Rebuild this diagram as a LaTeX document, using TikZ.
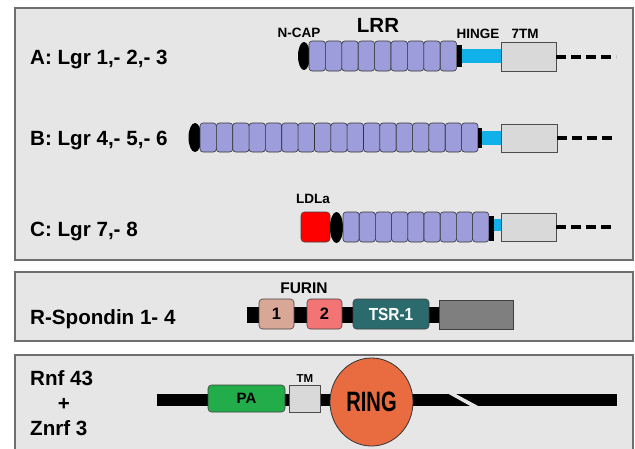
\documentclass[tikz,border=0pt]{standalone}
\usepackage{fontspec}
\setmainfont{Liberation Sans}
\newfontfamily\ringfont[FakeStretch=0.72]{Liberation Sans}
\newfontfamily\tsrfont[FakeStretch=0.88]{Liberation Sans}
\usetikzlibrary{shapes.geometric}
\definecolor{panelfill}{HTML}{E6E6E6}
\definecolor{panelline}{HTML}{6E6E6E}
\definecolor{lrrfill}{HTML}{9D9DDB}
\definecolor{hingeblue}{HTML}{10B0E8}
\definecolor{tmgray}{HTML}{D9D9D9}
\definecolor{furinone}{HTML}{D9A796}
\definecolor{furintwo}{HTML}{F27474}
\definecolor{tsrteal}{HTML}{2B6B6E}
\definecolor{darkbox}{HTML}{7F7F7F}
\definecolor{pagreen}{HTML}{22AD4A}
\definecolor{ringorange}{HTML}{E96B40}
\definecolor{ldlared}{HTML}{FF0000}
\newcommand{\fsz}[1]{\fontsize{#1}{#1}\selectfont\bfseries}
\begin{document}
\begin{tikzpicture}[x=1pt,y=-1pt,
  panel/.style={draw=panelline, line width=1.4pt, fill=panelfill},
  rowlabel/.style={font=\fsz{20.6}, anchor=base west, inner sep=0},
  smalllabel/.style={font=\fsz{13.5}, anchor=base, inner sep=0},
  blk/.style={inner sep=0, outer sep=0},
  lrr/.style={blk, draw=black!80, line width=0.6pt, rounded corners=3pt, fill=lrrfill, minimum height=30pt, anchor=west},
  ncapshape/.style={blk, ellipse, fill=black},
  bar/.style={blk, fill=black, anchor=west},
  hinge/.style={blk, fill=hingeblue, anchor=west},
  tmbox/.style={blk, draw=black!70, line width=0.7pt, fill=tmgray},
  rbox/.style={blk, draw=black!75, line width=0.6pt, rounded corners=3.5pt},
  dashline/.style={line width=4pt, dash pattern=on 10pt off 5pt}
]
\useasboundingbox (0,0) rectangle (635,448);
\fill[white] (0,0) rectangle (635,448);
% panels
\draw[panel] (15,8) rectangle (633,260);
\draw[panel] (15,272) rectangle (633,341);
\draw[panel] (15,355) rectangle (633,470);

% ---------- Row A ----------
\node[rowlabel] (la) at (30,64) {A: Lgr 1,- 2,- 3};
\node[ncapshape, minimum width=12pt, minimum height=28pt] (acap) at (304,56) {};
\foreach \i in {0,...,8} \node[lrr, minimum width=16.4pt] (a\i) at ({309+16.4*\i},56) {};
\node[bar, minimum width=5pt, minimum height=22pt] (abar) at (457,56) {};
\node[hinge, minimum width=39pt, minimum height=14pt] (ahinge) at (462,56) {};
\node[tmbox, minimum width=55pt, minimum height=29pt, anchor=west] (atm) at (501,56.5) {};
\coordinate (aend) at (616,56.5);
\draw[dashline] (atm.east) -- (aend);
\node[smalllabel] (ncap) at (299,37) {N-CAP};
\node[font=\fsz{20.5}, anchor=base, inner sep=0] (lrrlab) at (378,32.5) {LRR};
\node[smalllabel] (hingelab) at (478,38) {HINGE};
\node[smalllabel] (tmlab) at (525,38) {7TM};

% ---------- Row B ----------
\node[rowlabel] (lb) at (30,145) {B: Lgr 4,- 5,- 6};
\node[ncapshape, minimum width=13pt, minimum height=29pt] (bcap) at (195,137.5) {};
\foreach \i in {0,...,16} \node[lrr, minimum width=16.35pt, minimum height=29pt] (b\i) at ({200+16.35*\i},137.5) {};
\node[bar, minimum width=4pt, minimum height=20pt] (bbar) at (478,137.5) {};
\node[hinge, minimum width=19pt, minimum height=14pt] (bhinge) at (482,138) {};
\node[tmbox, minimum width=56pt, minimum height=28pt, anchor=west] (btm) at (501,138) {};
\coordinate (bend) at (616,138);
\draw[dashline] (btm.east) -- (bend);

% ---------- Row C ----------
\node[rowlabel] (lc) at (30,236) {C: Lgr 7,- 8};
\node[rbox, fill=ldlared, minimum width=29pt, minimum height=30pt] (ldla) at (315.5,227) {};
\node[smalllabel] (ldlalab) at (313,203) {LDLa};
\node[ncapshape, minimum width=13pt, minimum height=31pt] (ccap) at (336.5,227.5) {};
\foreach \i in {0,...,8} \node[lrr, minimum width=16.2pt] (c\i) at ({343+16.2*\i},227) {};
\node[bar, minimum width=5pt, minimum height=25pt] (cbar) at (489,228.5) {};
\node[hinge, minimum width=7pt, minimum height=12pt] (chinge) at (494,225) {};
\node[tmbox, minimum width=55pt, minimum height=28pt, anchor=west] (ctm) at (501,227) {};
\coordinate (cend) at (615,227);
\draw[dashline] (ctm.east) -- (cend);

% ---------- R-Spondin ----------
\node[rowlabel] (lr) at (30,324) {R-Spondin 1- 4};
\node[bar, minimum width=193pt, minimum height=16pt] (rbar) at (247,315) {};
\node[rbox, fill=furinone, minimum width=35pt, minimum height=30pt, font=\fsz{16.5}] (f1) at (276.5,314) {1};
\node[rbox, fill=furintwo, minimum width=35pt, minimum height=30pt, font=\fsz{16.5}] (f2) at (324.5,314) {2};
\node[rbox, fill=tsrteal, minimum width=76pt, minimum height=30pt, text=white, font=\tsrfont\fsz{17.5}] (tsr) at (391,314) {TSR-1};
\node[tmbox, fill=darkbox, draw=black!75, minimum width=74pt, minimum height=29pt] (gbox) at (476,314.5) {};
\node[font=\fsz{15.5}, anchor=base, inner sep=0] (furin) at (304,293) {FURIN};

% ---------- Rnf43 / Znrf3 ----------
\node[rowlabel] (lrnf) at (30,385) {Rnf 43};
\node[font=\fsz{20.6}, anchor=base, inner sep=0] (lplus) at (64,410) {+};
\node[rowlabel] (lznrf) at (30,435) {Znrf 3};
\node[bar, minimum width=460pt, minimum height=12pt] (zline) at (157,400) {};
\fill[panelfill] (447,393) -- (454,393) -- (480,407) -- (472,407) -- cycle;
\node[rbox, fill=pagreen, minimum width=77pt, minimum height=27pt, font=\fsz{15}] (pa) at (246.5,398.5) {PA};
\node[tmbox, minimum width=31pt, minimum height=27pt] (tm) at (304.5,398.5) {};
\node[font=\fsz{11.5}, anchor=base, inner sep=0] (tmlab2) at (305,382) {TM};
\node[blk, ellipse, draw=black!80, line width=0.8pt, fill=ringorange, minimum width=83pt, minimum height=88pt, font=\ringfont\fsz{28}] (ring) at (371.5,402) {RING};
\end{tikzpicture}
\end{document}
